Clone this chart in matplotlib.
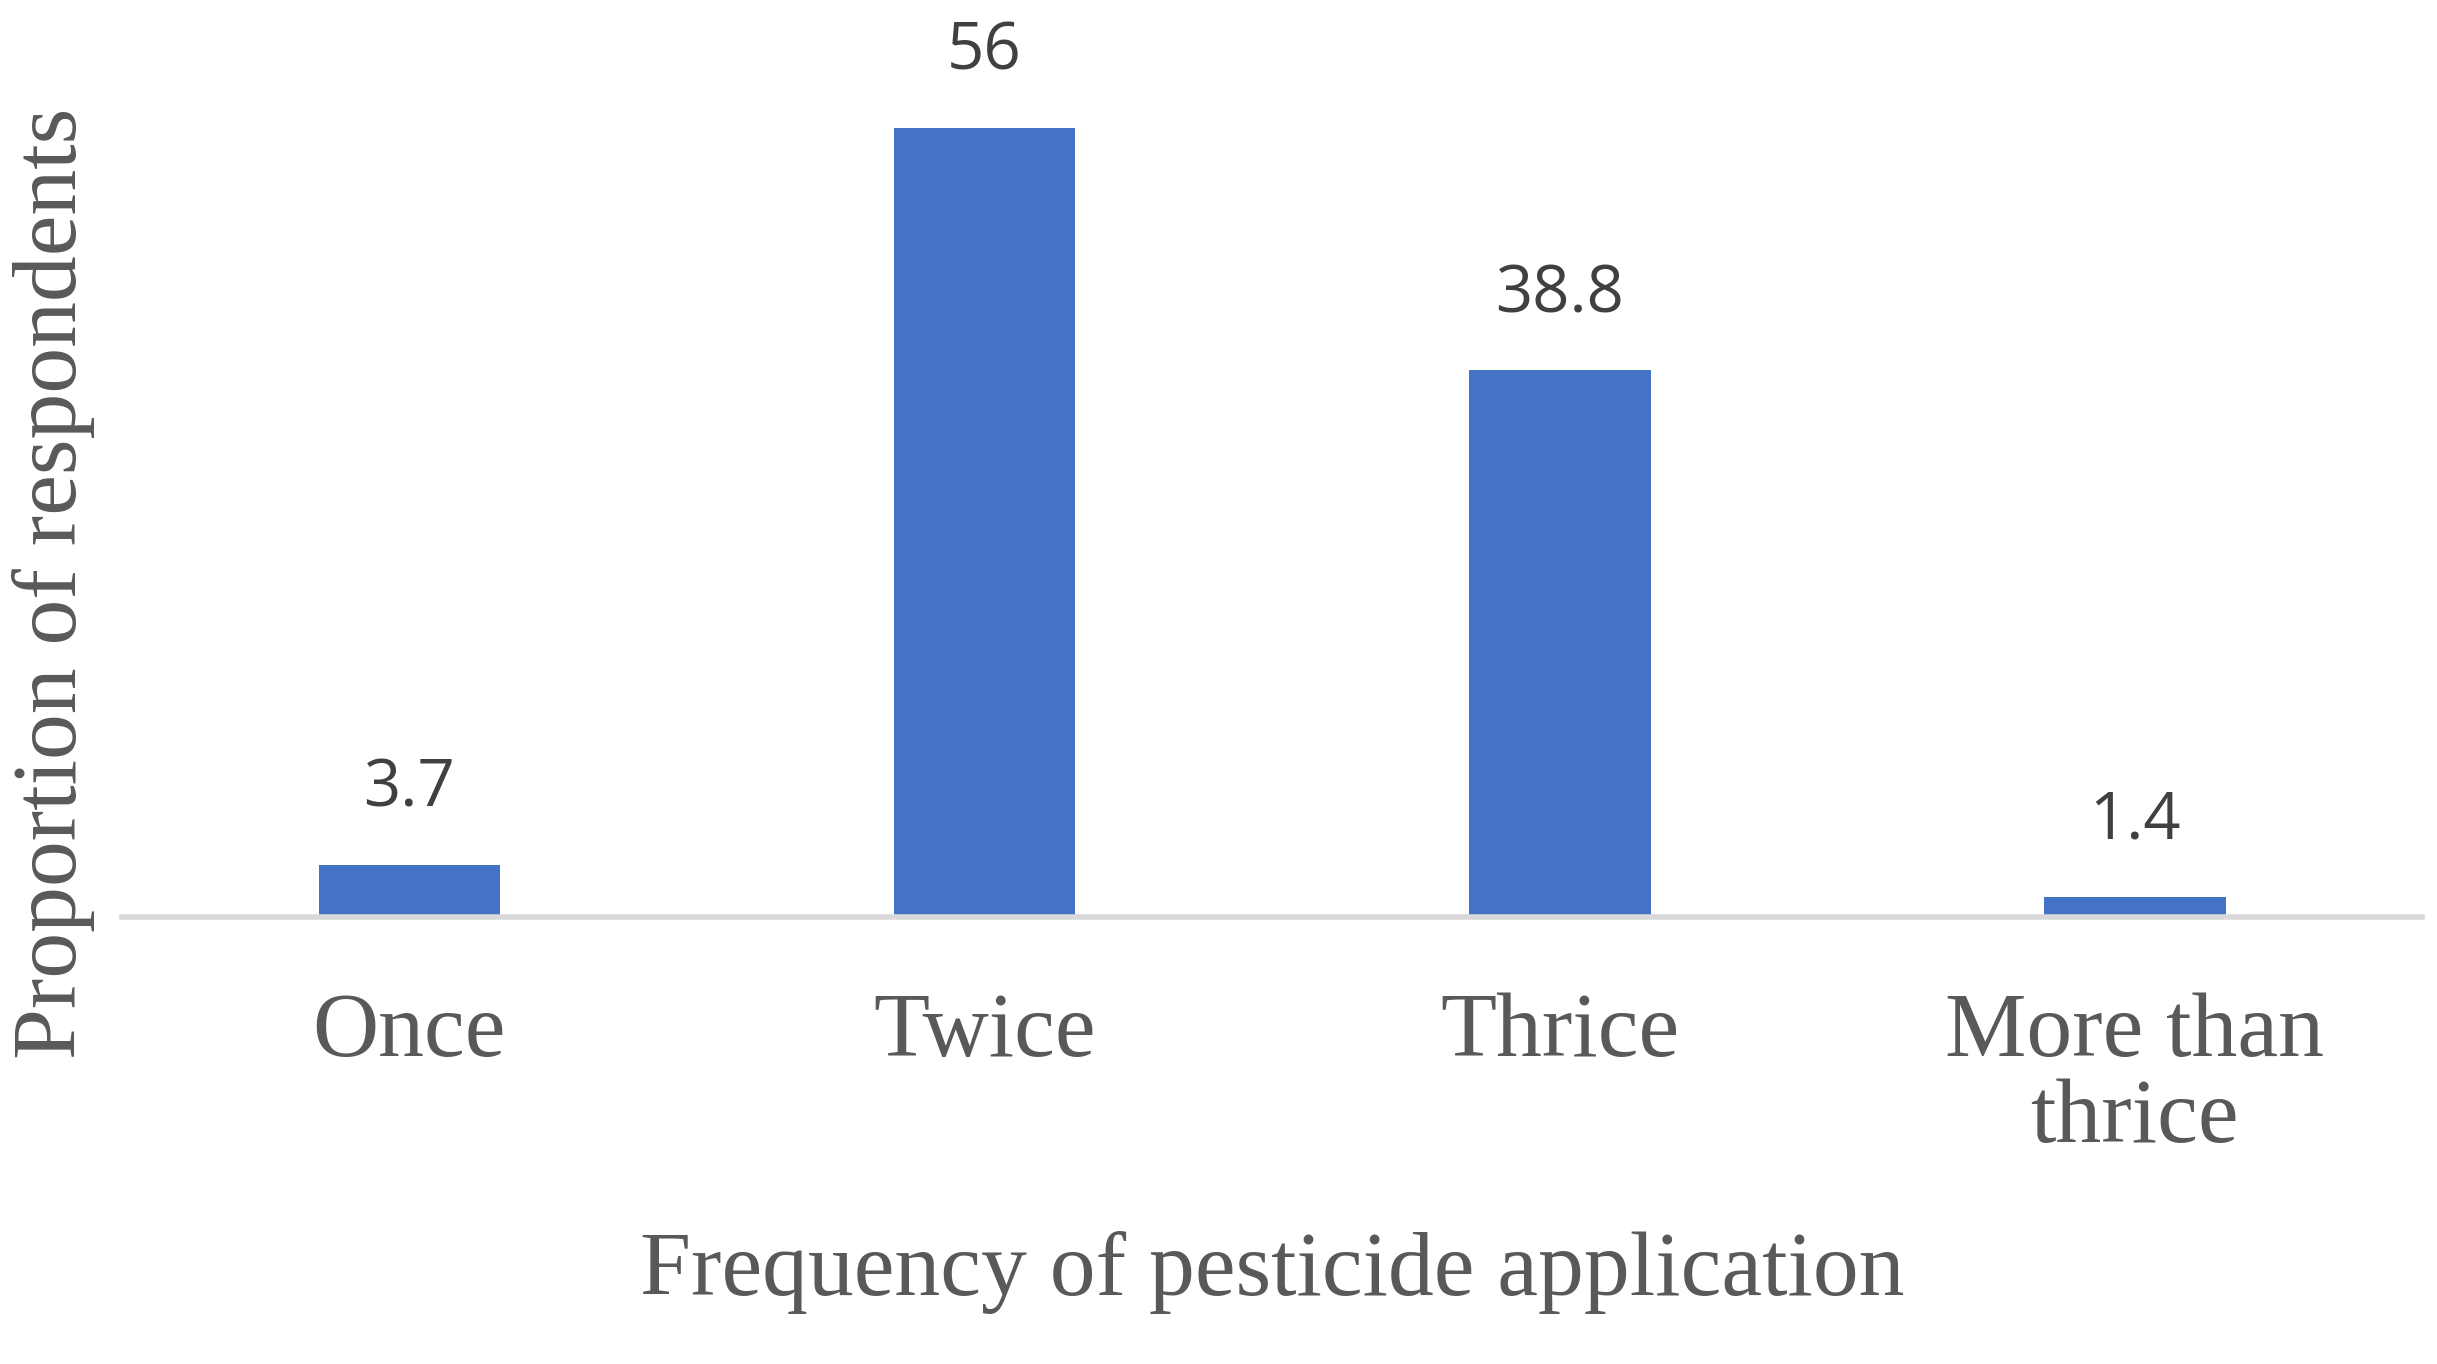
import matplotlib.pyplot as plt

categories = ["Once", "Twice", "Thrice", "More than\nthrice"]
values = [3.7, 56, 38.8, 1.4]
value_labels = ["3.7", "56", "38.8", "1.4"]

fig = plt.figure(figsize=(24.37, 13.64), dpi=100)
ax = fig.add_axes([0.05, 0.328, 0.944, 0.64])

bars = ax.bar(range(len(categories)), values, width=0.316, color="#4472C4")
for i, v in enumerate(values):
    ax.text(i, v + 3, value_labels[i], ha="center", va="bottom",
            fontsize=47, color="#404040", family="Open Sans")

ax.set_xlim(-0.5, 3.5)
ax.set_ylim(0, 62)
ax.set_yticks([])
ax.set_xticks(range(len(categories)))
ax.set_xticklabels(categories, fontsize=66, color="#595959", family="Liberation Serif",
                   linespacing=1.05)
ax.tick_params(axis="x", length=0, pad=55)
for s in ["top", "right", "left"]:
    ax.spines[s].set_visible(False)
ax.spines["bottom"].set_color("#D9D9D9")
ax.spines["bottom"].set_linewidth(4)

ax.set_xlabel("Frequency of pesticide application", fontsize=66, color="#595959",
              family="Liberation Serif", labelpad=50)
fig.text(0.022, 0.572, "Proportion of respondents", rotation=90, ha="center", va="center",
         fontsize=66, color="#595959", family="Liberation Serif")

fig.savefig("out.png", dpi=100)
